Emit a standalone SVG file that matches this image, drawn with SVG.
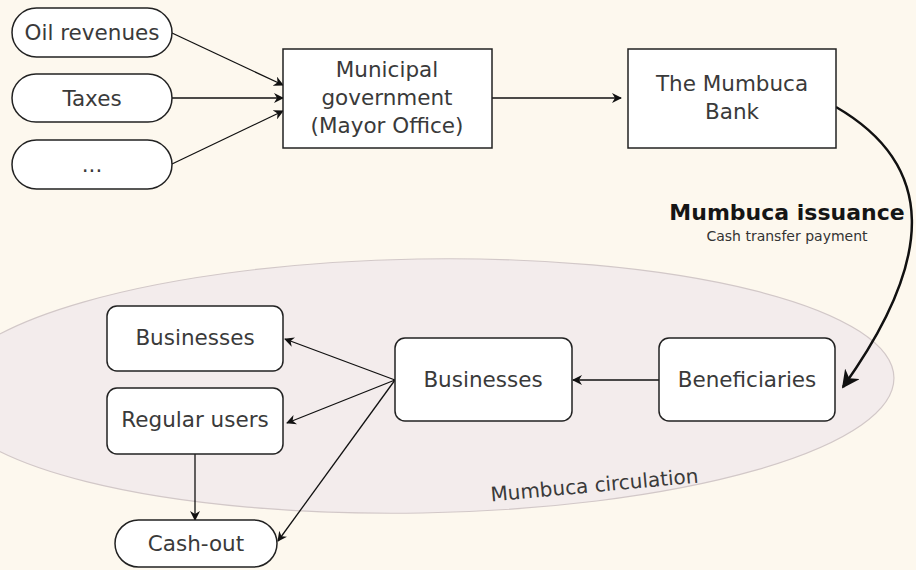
<svg xmlns="http://www.w3.org/2000/svg" width="916" height="570" viewBox="0 0 916 570">
  <style>
    .box { fill: #ffffff; stroke: #222222; stroke-width: 1.5; }
    .lbl { font-family: "DejaVu Sans", Verdana, sans-serif; font-size: 21.5px; fill: #3a3a3a; text-anchor: middle; }
    .edge { fill: none; stroke: #111111; stroke-width: 1.3; marker-end: url(#arrow); }
  </style>
  <defs>
    <marker id="arrow" viewBox="0 0 10 10" refX="9" refY="5" markerWidth="10" markerHeight="10" markerUnits="userSpaceOnUse" orient="auto">
      <path d="M0,0 L10,5 L0,10 L3,5 z" fill="#111111"/>
    </marker>
    <marker id="arrowBig" viewBox="0 0 10 10" refX="9" refY="5" markerWidth="18" markerHeight="18" markerUnits="userSpaceOnUse" orient="auto">
      <path d="M0,0 L10,5 L0,10 L3,5 z" fill="#111111"/>
    </marker>
  </defs>

  <rect width="916" height="570" fill="#fdf8ee"/>

  <!-- circulation zone -->
  <g id="circulation">
    <ellipse cx="420" cy="386" rx="474" ry="127" transform="rotate(-1 420 386)" fill="#f3ecec" stroke="#d2c8c8" stroke-width="1.2"/>
    <text class="lbl" x="595" y="492" transform="rotate(-5.2 595 492)" style="font-size:20px" fill="#484848">Mumbuca circulation</text>
  </g>

  <!-- connectors -->
  <g id="connectors">
    <line class="edge" x1="172" y1="33" x2="283" y2="85"/>
    <line class="edge" x1="172" y1="98" x2="283" y2="98"/>
    <line class="edge" x1="172" y1="164" x2="283" y2="111"/>
    <line class="edge" x1="492" y1="98" x2="621" y2="98"/>
    <path d="M836,107 C936,165 936,257 843,387" fill="none" stroke="#111111" stroke-width="2.5" marker-end="url(#arrowBig)"/>
    <line class="edge" x1="659" y1="380" x2="573" y2="380"/>
    <line class="edge" x1="395" y1="380" x2="285" y2="339"/>
    <line class="edge" x1="395" y1="380" x2="287" y2="423"/>
    <line class="edge" x1="395" y1="380" x2="278" y2="541"/>
    <line class="edge" x1="195" y1="454" x2="195" y2="520"/>
  </g>

  <!-- issuance label -->
  <g id="issuance-label">
    <text x="787" y="220" text-anchor="middle" font-family="'DejaVu Sans', Verdana, sans-serif" font-size="22" font-weight="bold" fill="#151515">Mumbuca issuance</text>
    <text x="787" y="241" text-anchor="middle" font-family="'DejaVu Sans', Verdana, sans-serif" font-size="14" fill="#333333">Cash transfer payment</text>
  </g>

  <!-- source nodes -->
  <g id="oil-revenues">
    <rect class="box" x="12" y="8" width="160" height="49" rx="24.5"/>
    <text class="lbl" x="92" y="40">Oil revenues</text>
  </g>
  <g id="taxes">
    <rect class="box" x="12" y="74" width="160" height="48" rx="24"/>
    <text class="lbl" x="92" y="106">Taxes</text>
  </g>
  <g id="other-sources">
    <rect class="box" x="12" y="140" width="160" height="49" rx="24.5"/>
    <text class="lbl" x="92" y="172">...</text>
  </g>

  <g id="municipal-government">
    <rect class="box" x="283" y="49" width="209" height="99"/>
    <text class="lbl" x="387" y="77">Municipal</text>
    <text class="lbl" x="387" y="105">government</text>
    <text class="lbl" x="387" y="133">(Mayor Office)</text>
  </g>

  <g id="mumbuca-bank">
    <rect class="box" x="628" y="49" width="208" height="99"/>
    <text class="lbl" x="732" y="91">The Mumbuca</text>
    <text class="lbl" x="732" y="119">Bank</text>
  </g>

  <!-- circulation nodes -->
  <g id="beneficiaries">
    <rect class="box" x="659" y="338" width="176" height="83" rx="10"/>
    <text class="lbl" x="747" y="387">Beneficiaries</text>
  </g>
  <g id="businesses-main">
    <rect class="box" x="395" y="338" width="177" height="83" rx="10"/>
    <text class="lbl" x="483" y="387">Businesses</text>
  </g>
  <g id="businesses-other">
    <rect class="box" x="107" y="306" width="176" height="65" rx="10"/>
    <text class="lbl" x="195" y="345">Businesses</text>
  </g>
  <g id="regular-users">
    <rect class="box" x="107" y="388" width="176" height="66" rx="10"/>
    <text class="lbl" x="195" y="427">Regular users</text>
  </g>
  <g id="cash-out">
    <rect class="box" x="115" y="520" width="162" height="47" rx="23.5"/>
    <text class="lbl" x="196" y="551">Cash-out</text>
  </g>
</svg>
